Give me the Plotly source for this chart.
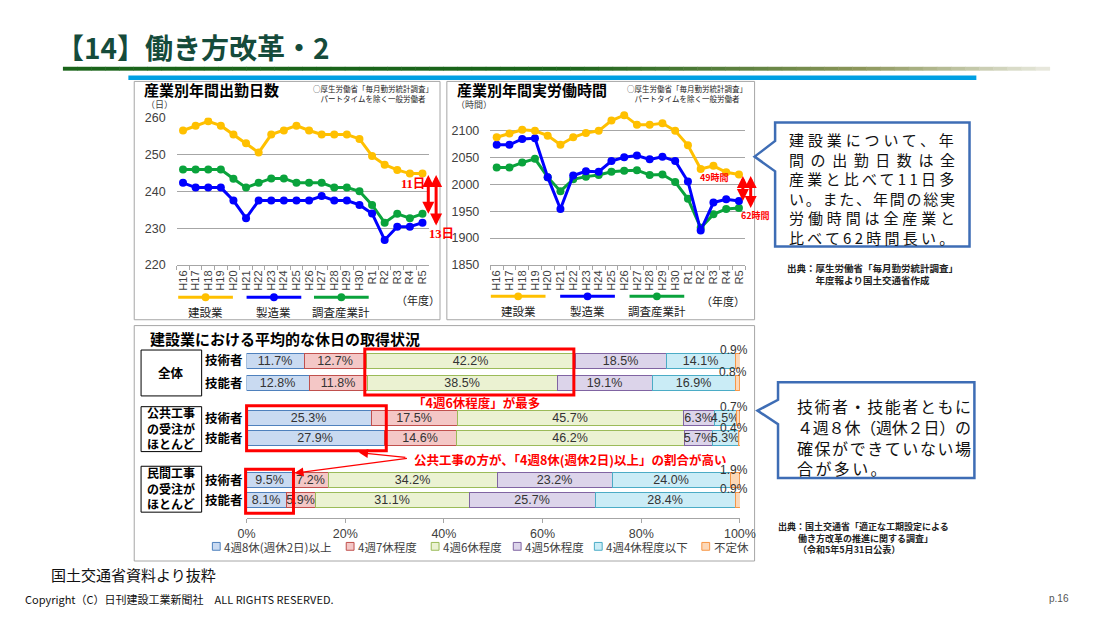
import plotly.graph_objects as go

# The page keeps the browser's 8px body margin, so the figure is sized to fit the
# 1100x618 window inside it; all layout positions below are given in window pixels.
WIN_W, WIN_H, OFF = 1100, 618, 8
W, H = WIN_W - 2 * OFF, WIN_H - 2 * OFF
JP = "Noto Sans CJK JP"
NUM = "Arial, Liberation Sans, Noto Sans CJK JP"

# ---------------- data ----------------
years = ["H16", "H17", "H18", "H19", "H20", "H21", "H22", "H23", "H24", "H25",
         "H26", "H27", "H28", "H29", "H30", "R1", "R2", "R3", "R4", "R5"]
line_series = ["建設業", "製造業", "調査産業計"]

days_construction = [256.5, 257.8, 259.0, 257.8, 255.4, 253.0, 250.5, 255.4, 256.5, 257.8,
                     256.5, 255.4, 255.4, 255.4, 254.2, 249.6, 247.2, 245.8, 244.8, 244.8]
days_manufacturing = [242.3, 241.0, 241.0, 241.0, 237.5, 232.7, 237.5, 237.5, 237.5, 237.5,
                      237.5, 238.7, 237.5, 237.5, 236.3, 234.0, 226.8, 230.4, 230.4, 231.5]
days_all = [245.9, 245.9, 245.9, 245.9, 243.4, 241.0, 242.3, 243.5, 243.5, 242.3,
            242.3, 242.3, 241.0, 241.0, 240.0, 236.3, 231.5, 233.9, 232.7, 233.9]

hours_construction = [2087, 2094, 2101, 2099, 2090, 2073, 2087, 2095, 2099, 2118,
                      2128, 2110, 2110, 2113, 2099, 2072, 2028, 2034, 2022, 2018]
hours_manufacturing = [2073, 2073, 2084, 2085, 2013, 1954, 2016, 2024, 2023, 2043,
                       2050, 2053, 2046, 2051, 2043, 2005, 1914, 1966, 1972, 1969]
hours_all = [2031, 2031, 2040, 2047, 2013, 1987, 2009, 2014, 2017, 2023,
             2025, 2026, 2017, 2018, 2004, 1973, 1919, 1944, 1954, 1956]

day_ticks = [220, 230, 240, 250, 260]
hour_ticks = [1850, 1900, 1950, 2000, 2050, 2100]
pct_ticks = [0, 20, 40, 60, 80, 100]

holiday_types = ["4週8休(週休2日)以上", "4週7休程度", "4週6休程度", "4週5休程度", "4週4休程度以下", "不定休"]
worker_types = ["技術者", "技能者"]
row_groups = ["全体", "公共工事<br>の受注が<br>ほとんど", "民間工事<br>の受注が<br>ほとんど"]
# rows: 全体(技術者,技能者), 公共(技術者,技能者), 民間(技術者,技能者)
share_8days = [11.7, 12.8, 25.3, 27.9, 9.5, 8.1]
share_7days = [12.7, 11.8, 17.5, 14.6, 7.2, 5.9]
share_6days = [42.2, 38.5, 45.7, 46.2, 34.2, 31.1]
share_5days = [18.5, 19.1, 6.3, 5.7, 23.2, 25.7]
share_4days = [14.1, 16.9, 4.5, 5.3, 24.0, 28.4]
share_irregular = [0.9, 0.8, 0.7, 0.4, 1.9, 0.9]

# ---------------- helpers ----------------
def X(p):
    return (p - OFF) / W


def Y(p):
    return 1 - (p - OFF) / H


def em_width(s):
    return sum(0.56 if ord(c) < 128 else 1.0 for c in s)


def spaced(s, fs, target=None, default=2.0):
    if target is None:
        ls = default
    else:
        ls = (target - em_width(s) * fs) / max(len(s) - 1, 1)
    return f'<span style="letter-spacing:{ls:.2f}px">{s}</span>'


fig = go.Figure()
shapes = []
annotations = []


def text(x, y, s, size=12, color="#000", xanchor="left", yanchor="middle", family=JP, **kw):
    annotations.append(dict(x=X(x), y=Y(y), xref="paper", yref="paper", text=s, showarrow=False,
                            xanchor=xanchor, yanchor=yanchor,
                            font=dict(family=family, size=size, color=color), **kw))


def rect(x0, y0, x1, y1, line="#a6a6a6", width=1, fill=None, layer="below"):
    shapes.append(dict(type="rect", xref="paper", yref="paper", x0=X(x0), x1=X(x1), y0=Y(y0), y1=Y(y1),
                       line=dict(color=line, width=width), fillcolor=fill, layer=layer))


def path(points, line, width, fill="white"):
    d = "M " + " L ".join(f"{X(a):.5f},{Y(b):.5f}" for a, b in points) + " Z"
    shapes.append(dict(type="path", xref="paper", yref="paper", path=d,
                       line=dict(color=line, width=width), fillcolor=fill, layer="above"))


YELLOW = "#ffc000"
BLUE = "#0000ff"
GREEN = "#0aa33c"
line_colors = {"建設業": YELLOW, "製造業": BLUE, "調査産業計": GREEN}

# ---------------- header ----------------
text(46, 41, "<b>【14】働き方改革・2</b>", size=28, color="#154b3b")
n = 70
x_start, x_end = 55, 1065


def lerp(a, b, t):
    return tuple(int(a[i] + (b[i] - a[i]) * t) for i in range(3))


for i in range(n):
    t = i / n
    if t < 0.5:
        c = (26, 100, 26)
    elif t < 0.8:
        c = lerp((26, 100, 26), (140, 150, 90), (t - 0.5) / 0.3)
    else:
        c = lerp((140, 150, 90), (238, 238, 230), (t - 0.8) / 0.2)
    xa = x_start + (x_end - x_start) * i / n
    xb = x_start + (x_end - x_start) * (i + 1) / n + 0.5
    shapes.append(dict(type="rect", xref="paper", yref="paper", x0=X(xa), x1=X(xb), y0=Y(65), y1=Y(61),
                       line=dict(width=0), fillcolor=f"rgb{c}", layer="below"))
rect(122, 70, 990, 74.5, line="#00a0e3", width=0, fill="#00a0e3")

# ---------------- panel frames ----------------
rect(128, 76, 441, 320)
rect(448, 76, 763, 320)
rect(128, 326, 763, 567)

# ---------------- line charts ----------------
for name, vals in [("調査産業計", days_all), ("製造業", days_manufacturing), ("建設業", days_construction)]:
    c = line_colors[name]
    fig.add_trace(go.Scatter(x=years, y=vals, mode="lines+markers", name=name,
                             line=dict(color=c, width=3), marker=dict(size=8, color=c),
                             xaxis="x", yaxis="y", showlegend=False, hoverinfo="skip"))
for name, vals in [("調査産業計", hours_all), ("製造業", hours_manufacturing), ("建設業", hours_construction)]:
    c = line_colors[name]
    fig.add_trace(go.Scatter(x=years, y=vals, mode="lines+markers", name=name,
                             line=dict(color=c, width=3), marker=dict(size=8, color=c),
                             xaxis="x2", yaxis="y2", showlegend=False, hoverinfo="skip"))

xcat = dict(type="category", range=[-0.5, len(years) - 0.5], tickangle=-90, showgrid=False,
            tickmode="array", tickvals=years, ticktext=years,
            showline=True, linecolor="#a6a6a6", ticks="outside", tickson="boundaries", ticklen=4,
            tickcolor="#a6a6a6", tickfont=dict(family=NUM, size=11, color="#404040"), zeroline=False)
yval = dict(showgrid=True, gridcolor="#a6a6a6", gridwidth=1, zeroline=False, ticks="",
            tickfont=dict(family=NUM, size=12.5, color="#404040"), ticklabelstandoff=10)

for x0, title, unit, ux in [(136, "産業別年間出勤日数", "（日）", 138), (456, "産業別年間実労働時間", "（時間）", 455)]:
    text(x0, 84.5, f"<b>{title}</b>", size=15)
    text(ux, 100, unit, size=9, color="#404040")
for cx in (372, 694):
    text(cx, 88.5, "○厚生労働省「毎月勤労統計調査」<br>パートタイムを除く一般労働者",
         size=7.5, xanchor="center", color="#222")

for lx, ly, ty in [((173, 243, 312), 297, 309), ((493, 564, 635), 296, 308)]:
    for x0, name in zip(lx, line_series):
        c = line_colors[name]
        shapes.append(dict(type="line", xref="paper", yref="paper", x0=X(x0), x1=X(x0 + 56), y0=Y(ly), y1=Y(ly),
                           line=dict(color=c, width=3), layer="above"))
        shapes.append(dict(type="circle", xref="paper", yref="paper", x0=X(x0 + 28 - 4), x1=X(x0 + 28 + 4),
                           y0=Y(ly - 4), y1=Y(ly + 4), line=dict(color=c, width=0), fillcolor=c, layer="above"))
        text(x0 + 28, ty + 3, name, size=11.5, xanchor="center", color="#222")
text(418, 300, "（年度）", size=11, xanchor="center", color="#222")
text(731, 301, "（年度）", size=11, xanchor="center", color="#222")


def varrow(xpx, yref, y_head, y_tail):
    annotations.append(dict(x=X(xpx), xref="paper", y=y_head, yref=yref, ax=0, axref="pixel",
                            ay=y_tail, ayref=yref, text="", showarrow=True, arrowhead=2, startarrowhead=2,
                            arrowside="end+start", arrowsize=0.8, startarrowsize=0.8, arrowwidth=3,
                            arrowcolor="#ff0000"))


varrow(429, "y", days_all[-1], days_construction[-1])
varrow(437, "y", days_manufacturing[-1] - 0.8, days_construction[-1])
varrow(751, "y2", hours_manufacturing[-1], hours_construction[-1])
varrow(759, "y2", hours_all[-1], hours_construction[-1])
d_all = round(days_construction[-1] - days_all[-1])
d_man = round(days_construction[-1] - days_manufacturing[-1])
h_man = round(hours_construction[-1] - hours_manufacturing[-1])
h_all = round(hours_construction[-1] - hours_all[-1])
text(413, 181, f"<b>{d_all}日</b>", size=12.5, color="#ff0000", xanchor="center", family="Liberation Serif, " + JP)
text(443, 232, f"<b>{d_man}日</b>", size=12.5, color="#ff0000", xanchor="center", family="Liberation Serif, " + JP)
text(722, 174, f"<b>{h_man}時間</b>", size=9, color="#ff0000", xanchor="center")
text(764, 213, f"<b>{h_all}時間</b>", size=9, color="#ff0000", xanchor="center")

# ---------------- holiday bar chart ----------------
shares = [share_8days, share_7days, share_6days, share_5days, share_4days, share_irregular]
fills = ["#c9daf1", "#f4c7c6", "#ebf2d2", "#dcd4ea", "#caecf6", "#fcd8b8"]
edges = ["#4f81bd", "#c0504d", "#9bbb59", "#8064a2", "#4bacc6", "#f79646"]
group_rows_px = [(362, 385), (421, 442), (485, 505)]
group_box_px = [(351, 398), (409, 455), (470, 517)]
bar_px = 15

layout_axes = {}
for g, (c1, c2) in enumerate(group_rows_px):
    step = c2 - c1
    yname = f"yaxis{3 + g}"
    layout_axes[yname] = dict(domain=[Y(c2 + step / 2), Y(c1 - step / 2)], anchor="x3", type="category",
                              categoryorder="array", categoryarray=worker_types, range=[1.5, -0.5],
                              autorange=False,
                              showgrid=False, showline=False, zeroline=False, ticks="",
                              tickmode="array", tickvals=worker_types,
                              ticktext=[f"<b>{w}</b>" for w in worker_types],
                              tickfont=dict(family=JP, size=12.5, color="#000"), ticklabelstandoff=3)
    for k in range(len(holiday_types)):
        vals = shares[k][2 * g:2 * g + 2]
        labels = [f"{v:.1f}%" for v in vals] if k < len(holiday_types) - 1 else ["", ""]
        fig.add_trace(go.Bar(x=vals, y=worker_types, orientation="h", name=holiday_types[k],
                             xaxis="x3", yaxis=f"y{3 + g}", width=bar_px / step,
                             marker=dict(color=fills[k], line=dict(color=edges[k], width=1)),
                             text=labels, textposition="inside", insidetextanchor="middle",
                             textangle=0, constraintext="none",
                             textfont=dict(family=NUM, size=12.5, color="#333"),
                             showlegend=False, hoverinfo="skip"))
    for r in range(2):
        total = sum(s[2 * g + r] for s in shares)
        annotations.append(dict(x=min(total, 100), xref="x3", y=worker_types[r], yref=f"y{3 + g}",
                                text=f"{share_irregular[2 * g + r]:.1f}%", showarrow=False,
                                xanchor="right", yanchor="middle", xshift=10, yshift=11,
                                font=dict(family=NUM, size=12, color="#333")))
    b0, b1 = group_box_px[g]
    rect(135, b0, 197, b1, line="#000", width=1, fill="white", layer="above")
    if g == 0:
        text(166, (b0 + b1) / 2, f"<b>{row_groups[g]}</b>", size=12.5, xanchor="center")
    else:
        text(139, (b0 + b1) / 2 - 1, f"<b>{row_groups[g]}</b>", size=12, align="left")

text(142, 339, "<b>建設業における平均的な休日の取得状況</b>", size=15)

rect(364, 350, 578, 397, line="#ff0000", width=3, layer="above")
rect(243, 408, 386, 454, line="#ff0000", width=3, layer="above")
rect(242, 473, 291, 518, line="#ff0000", width=3, layer="above")
text(478, 405, "<b>「4週6休程度」が最多</b>", size=12.5, color="#ff0000", xanchor="center")
text(412, 463, "<b>公共工事の方が、「4週8休(週休2日)以上」の割合が高い</b>", size=12.5, color="#ff0000")
for hx, hy, tx, ty in [(358, 456, 406, 461), (292, 477, 406, 462)]:
    annotations.append(dict(x=X(hx), y=Y(hy), xref="paper", yref="paper", ax=tx - hx, ay=ty - hy,
                            axref="pixel", ayref="pixel", text="", showarrow=True, arrowhead=2,
                            arrowsize=1.4, arrowwidth=1.3, arrowcolor="#ff0000"))

leg_x = [208, 345, 432, 516, 599, 709]
for x0, name, f, e in zip(leg_x, holiday_types, fills, edges):
    rect(x0, 548, x0 + 8, 556, line=e, width=1, fill=f, layer="above")
    text(x0 + 10, 552.5, name, size=11.5, color="#404040")

# ---------------- callouts ----------------
path([(784, 118), (983, 118), (983, 245), (784, 245), (784, 168), (763, 153), (784, 137)], "#3e6db5", 2.5)
callout1 = ["建設業について、年", "間の出勤日数は全", "産業と比べて11日多",
            "い。また、年間の総実", "労働時間は全産業と", "比べて62時間長い。"]
text(796, 123, "<br>".join(spaced(s, 15, 166) for s in callout1), size=15, color="#111",
     yanchor="top", align="left")
text(884, 273.5, "<b>出典：厚生労働省「毎月勤労統計調査」<br>年度報より国土交通省作成</b>",
     size=9.5, xanchor="center", color="#222")

path([(787, 384), (988, 384), (988, 482), (787, 482), (787, 427), (766, 413), (787, 402)], "#3e6db5", 2.5)
callout2 = ["技術者・技能者ともに", "４週８休（週休２日）の", "確保ができていない場", "合が多い。"]
text(804, 394, "<br>".join(spaced(s, 16, 174 if i < 3 else None, default=2.4)
                           for i, s in enumerate(callout2)),
     size=16, color="#111", yanchor="top", align="left")
source2 = ["出典：国土交通省「適正な工期設定による", "　　 働き方改革の推進に関する調査」", "　　 （令和5年5月31日公表）"]
text(785, 543, "<b>" + "<br>".join(source2) + "</b>", size=9, color="#222", align="left")

# ---------------- footer ----------------
text(41, 581, "国土交通省資料より抜粋", size=15, color="#111")
text(14, 605.5, "Copyright（C）日刊建設工業新聞社　ALL RIGHTS RESERVED.", size=11, color="#111")
text(1087, 605.5, "p.16", size=10, color="#555", xanchor="right", family=NUM)

fig.update_layout(
    width=W, height=H, margin=dict(l=0, r=0, t=0, b=0),
    paper_bgcolor="white", plot_bgcolor="rgba(0,0,0,0)",
    font=dict(family=JP, color="#222"),
    barmode="stack", bargap=0,
    showlegend=False,
    xaxis=dict(domain=[X(171.5), X(429.5)], anchor="y", **xcat),
    yaxis=dict(domain=[Y(264), Y(113)], anchor="x", range=[day_ticks[0], day_ticks[-1]],
               tickvals=day_ticks, **yval),
    xaxis2=dict(domain=[X(492.5), X(753.5)], anchor="y2", **xcat),
    yaxis2=dict(domain=[Y(264), Y(98.4)], anchor="x2", range=[1850, 2150],
                tickvals=hour_ticks, **yval),
    xaxis3=dict(domain=[X(243), X(748)], anchor="free", position=Y(523), range=[0, 100],
                tickmode="array", tickvals=pct_ticks, ticktext=[f"{v}%" for v in pct_ticks],
                showline=True, linecolor="#a6a6a6",
                ticks="outside", ticklen=4, tickcolor="#a6a6a6", showgrid=False, zeroline=False,
                tickfont=dict(family=NUM, size=12.5, color="#404040")),
    shapes=shapes, annotations=annotations,
    **layout_axes,
)

fig.write_html("out.html", config={"displayModeBar": False})
